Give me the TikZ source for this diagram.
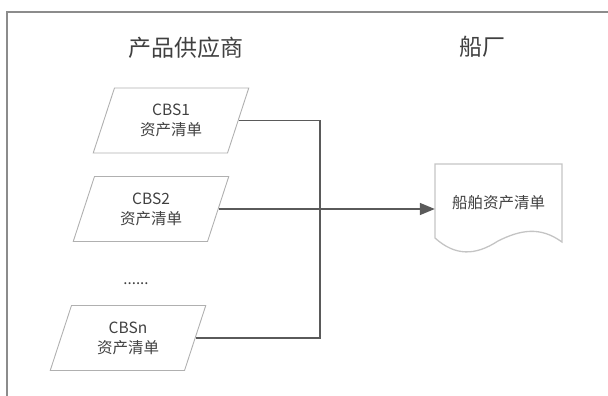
\documentclass[tikz,border=0pt]{standalone}
\usepackage{fontspec}
\setmainfont{Noto Sans CJK SC}
\usetikzlibrary{shapes.geometric,arrows.meta}
\definecolor{txt}{HTML}{404040}
\definecolor{framec}{HTML}{8C8C8C}
\definecolor{linec}{HTML}{5A5A5A}
\definecolor{boxc}{HTML}{B0B0B0}
\definecolor{docc}{HTML}{C4C4C4}
\tikzset{
  title/.style={text=txt, font=\fontsize{23}{26}\selectfont, inner sep=0pt},
  para/.style={trapezium, trapezium left angle=70.5, trapezium right angle=109.5,
    trapezium stretches=true, minimum width=156pt, minimum height=65pt, inner sep=0pt,
    draw=boxc, line width=0.9pt, text=txt, align=center,
    font=\fontsize{15.5}{20}\selectfont},
  conn/.style={draw=linec, line width=1.2pt},
  frameline/.style={draw=framec, line width=1.4pt},
  docbox/.style={draw=docc, line width=1.3pt},
}
\begin{document}
\begin{tikzpicture}[x=1pt,y=-1pt]
\useasboundingbox (0,0) rectangle (608,396);
\draw[frameline] (7,396) -- (7,12) -- (608,12);
\node[title] (t1) at (185.5,48) {产品供应商};
\node[title] (t2) at (482,47) {船厂};
\node[para] (c1) at (171,120.5) {CBS1\\资产清单};
\node[para] (c2) at (151,209) {CBS2\\资产清单};
\node[para] (cn) at (128,338) {CBSn\\资产清单};
\node[text=txt, font=\fontsize{15}{18}\selectfont, inner sep=0pt] (dots) at (136,284) {......};
\node[minimum width=127pt, minimum height=78pt, inner sep=0pt, text=txt,
  font=\fontsize{15.5}{20}\selectfont] (doc) at (498.5,203) {船舶资产清单};
\draw[docbox] (435,164) -- (562,164) -- (562,242)
  .. controls (540,226) and (520,230) .. (498,241)
  .. controls (475,256) and (455,256) .. (435,238) -- cycle;
\coordinate (j) at (320,209);
\draw[conn] (c1.east) -| (j) |- (cn.east);
\draw[conn, line width=1.5pt, -{Triangle[length=15pt,width=12pt]}] (c2.east) -- (c2.east -| doc.west);
\end{tikzpicture}
\end{document}
